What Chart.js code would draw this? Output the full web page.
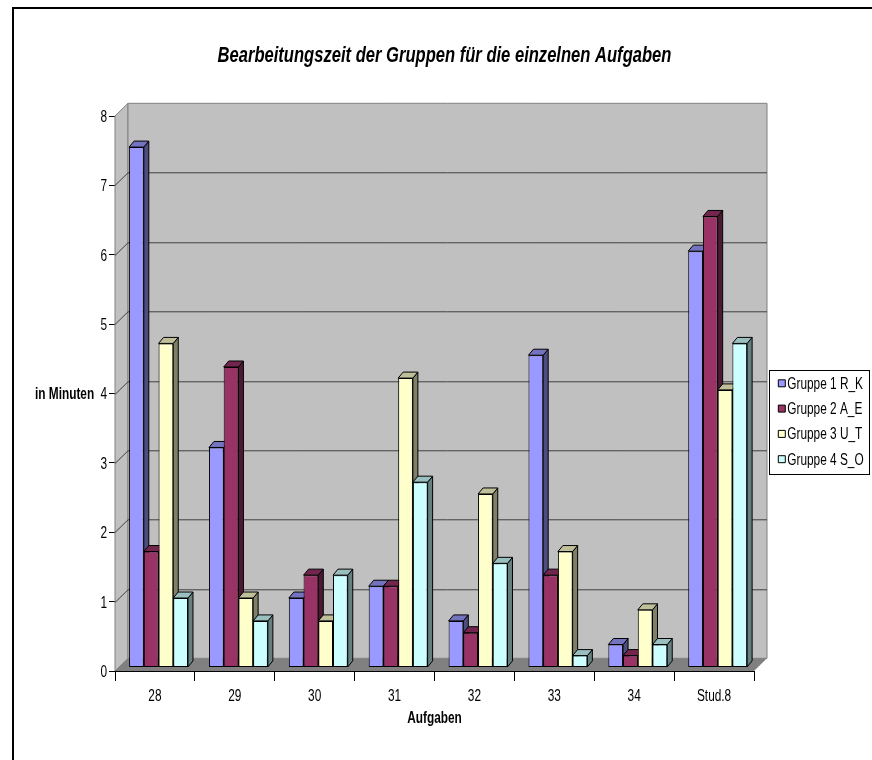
<!DOCTYPE html>
<html lang="de">
<head>
<meta charset="utf-8">
<title>Bearbeitungszeit</title>
<script src="https://cdn.jsdelivr.net/npm/chart.js@4"></script>
<style>
    html, body { margin: 0; padding: 0; background: #fff; }
    #wrap { position: relative; width: 872px; height: 760px; }
</style>
</head>
<body>
<div id="wrap"><canvas id="grafico" width="872" height="760"></canvas></div>
<script>
const aufgaben = ['28', '29', '30', '31', '32', '33', '34', 'Stud.8'];
const gruppe1 = [7.5, 3.17, 1, 1.17, 0.67, 4.5, 0.33, 6];
const gruppe2 = [1.67, 4.33, 1.33, 1.17, 0.5, 1.33, 0.17, 6.5];
const gruppe3 = [4.67, 1, 0.67, 4.17, 2.5, 1.67, 0.83, 4];
const gruppe4 = [1, 0.67, 1.33, 2.67, 1.5, 0.17, 0.33, 4.67];
const yTicks = [0, 1, 2, 3, 4, 5, 6, 7, 8];

const schrift = '"Liberation Sans", Arial, sans-serif';

// the original picture has all its text squeezed horizontally
const textBreite = 0.74;

// wall offset of the fake 3D box, bar depth and how far the bars stand from the front edge
const wandX = 13, wandY = 12.7;
const tiefeX = 5, tiefeY = 6;
const versatz = 3.6;

// rgb of a hex colour multiplied by f, for the darker bar faces
const abdunkeln = (hex, f) => {
    const n = parseInt(hex.slice(1), 16);
    return `rgb(${Math.round((n >> 16) * f)},${Math.round(((n >> 8) & 255) * f)},${Math.round((n & 255) * f)})`;
};

const flaeche = (ctx, punkte, farbe, rand) => {
    ctx.beginPath();
    punkte.forEach((p, i) => i ? ctx.lineTo(p[0], p[1]) : ctx.moveTo(p[0], p[1]));
    ctx.closePath();
    ctx.fillStyle = farbe;
    ctx.fill();
    if (rand) {
        ctx.strokeStyle = rand;
        ctx.lineWidth = 1;
        ctx.stroke();
    }
};

const box3d = {
    id: 'box3d',
    beforeInit(chart) {
        const ctx = chart.ctx;
        const fillText = ctx.fillText.bind(ctx);
        ctx.fillText = (text, x, y) => {
            ctx.save();
            // legend text sits closer to its box than Chart.js puts it, y labels a bit lower,
            // and the title is centred over the plot box, not the page
            if (ctx.textAlign === 'left') {
                ctx.translate(x - 6, y + 1);
            } else if (ctx.textAlign === 'right') {
                ctx.translate(x, y + 1.5);
            } else if (ctx.font.includes('italic')) {
                ctx.translate(x + 8.5, y);
            } else {
                ctx.translate(x, y);
            }
            ctx.scale(textBreite, 1);
            fillText(text, 0, 0);
            ctx.restore();
        };
    },
    beforeLayout(chart) {
        // legend is placed by hand, it should only reserve the right margin
        const lg = chart.legend;
        if (!lg.fitOriginal) {
            lg.fitOriginal = lg.fit;
            lg.fit = function () {
                this.fitOriginal();
                this.width = 118;
            };
        }
    },
    afterLayout(chart) {
        const lg = chart.legend;
        lg.left = 769; lg.right = 869; lg.top = 366; lg.bottom = 600;
    },
    beforeDatasetsDraw(chart) {
        const { ctx, chartArea: a, scales: { y } } = chart;
        ctx.save();

        // page frame, only top and left are in the picture
        ctx.fillStyle = '#000';
        ctx.fillRect(12, 7, 860, 2);
        ctx.fillRect(12, 7, 2, 753);

        // side wall, back wall, floor
        flaeche(ctx, [[a.left, a.top], [a.left + wandX, a.top - wandY], [a.left + wandX, a.bottom - wandY], [a.left, a.bottom]], '#c0c0c0', '#808080');
        flaeche(ctx, [[a.left + wandX, a.top - wandY], [a.right + wandX, a.top - wandY], [a.right + wandX, a.bottom - wandY], [a.left + wandX, a.bottom - wandY]], '#c0c0c0', '#808080');
        flaeche(ctx, [[a.left, a.bottom], [a.left + wandX, a.bottom - wandY], [a.right + wandX, a.bottom - wandY], [a.right, a.bottom]], '#808080');

        // grid lines run along the side wall and the back wall
        ctx.strokeStyle = '#404040';
        ctx.lineWidth = 1;
        yTicks.slice(1, -1).forEach(t => {
            const py = Math.round(y.getPixelForValue(t)) + 0.5;
            ctx.beginPath();
            ctx.moveTo(a.left, py);
            ctx.lineTo(a.left + wandX, py - wandY);
            ctx.lineTo(a.right + wandX, py - wandY);
            ctx.stroke();
        });

        // top and side faces first, the fronts drawn by Chart.js then cover what they should
        ctx.translate(versatz, -versatz);
        chart.data.datasets.forEach((ds, d) => {
            chart.getDatasetMeta(d).data.forEach(bar => {
                const r = bar.x + bar.width / 2, l = bar.x - bar.width / 2, t = bar.y, b = bar.base;
                flaeche(ctx, [[r, t], [r + tiefeX, t - tiefeY], [r + tiefeX, b - tiefeY], [r, b]], abdunkeln(ds.backgroundColor, 0.5), '#000');
                flaeche(ctx, [[l, t], [l + tiefeX, t - tiefeY], [r + tiefeX, t - tiefeY], [r, t]], abdunkeln(ds.backgroundColor, 0.75), '#000');
            });
        });
        ctx.restore();

        ctx.save();
        ctx.translate(versatz, -versatz);
    },
    afterDatasetsDraw(chart) {
        chart.ctx.restore();
    },
    afterDraw(chart) {
        const { ctx } = chart;
        ctx.save();
        ctx.strokeStyle = '#000';
        ctx.lineWidth = 1;
        ctx.strokeRect(769.5, 370.5, 100, 104);
        ctx.fillStyle = '#000';
        ctx.font = 'bold 16px ' + schrift;
        ctx.textAlign = 'left';
        ctx.textBaseline = 'middle';
        ctx.fillText('in Minuten', 41, 394);
        ctx.restore();
    }
};

const serie = (label, data, farbe) => ({
    label,
    data,
    backgroundColor: farbe,
    borderColor: '#000',
    borderWidth: 1,
    borderSkipped: false
});

new Chart(document.getElementById('grafico'), {
    type: 'bar',
    data: {
        labels: aufgaben,
        datasets: [
            serie('Gruppe 1 R_K', gruppe1, '#9999ff'),
            serie('Gruppe 2 A_E', gruppe2, '#993366'),
            serie('Gruppe 3 U_T', gruppe3, '#ffffcc'),
            serie('Gruppe 4 S_O', gruppe4, '#ccffff')
        ]
    },
    plugins: [box3d],
    options: {
        responsive: false,
        animation: false,
        categoryPercentage: 0.7375,
        barPercentage: 1,
        layout: { padding: 0 },
        plugins: {
            title: {
                display: true,
                text: 'Bearbeitungszeit der Gruppen für die einzelnen Aufgaben',
                color: '#000',
                font: { family: schrift, size: 22.4, weight: 'bold', style: 'italic', lineHeight: 1 },
                padding: { top: 45, bottom: 48.6 }
            },
            legend: {
                position: 'right',
                align: 'start',
                labels: {
                    color: '#000',
                    font: { family: schrift, size: 16 },
                    boxWidth: 7,
                    boxHeight: 7,
                    padding: 9.3
                }
            },
            tooltip: { enabled: false }
        },
        scales: {
            x: {
                afterFit(s) { s.height = 89; },
                grid: { drawOnChartArea: false, color: '#000', tickLength: 10 },
                border: { color: '#000' },
                ticks: { color: '#000', font: { family: schrift, size: 16 }, padding: 6, maxRotation: 0 },
                title: {
                    display: true,
                    text: 'Aufgaben',
                    color: '#000',
                    font: { family: schrift, size: 16, weight: 'bold' },
                    padding: { top: 0, bottom: 32 }
                }
            },
            y: {
                min: 0,
                max: 8,
                afterFit(s) { s.width = 115; },
                afterBuildTicks(s) { s.ticks = yTicks.map(v => ({ value: v })); },
                grid: { drawOnChartArea: false, color: '#000', tickLength: 6 },
                border: { color: '#000' },
                ticks: { color: '#000', font: { family: schrift, size: 16 }, padding: 2 }
            }
        }
    }
});
</script>
</body>
</html>
